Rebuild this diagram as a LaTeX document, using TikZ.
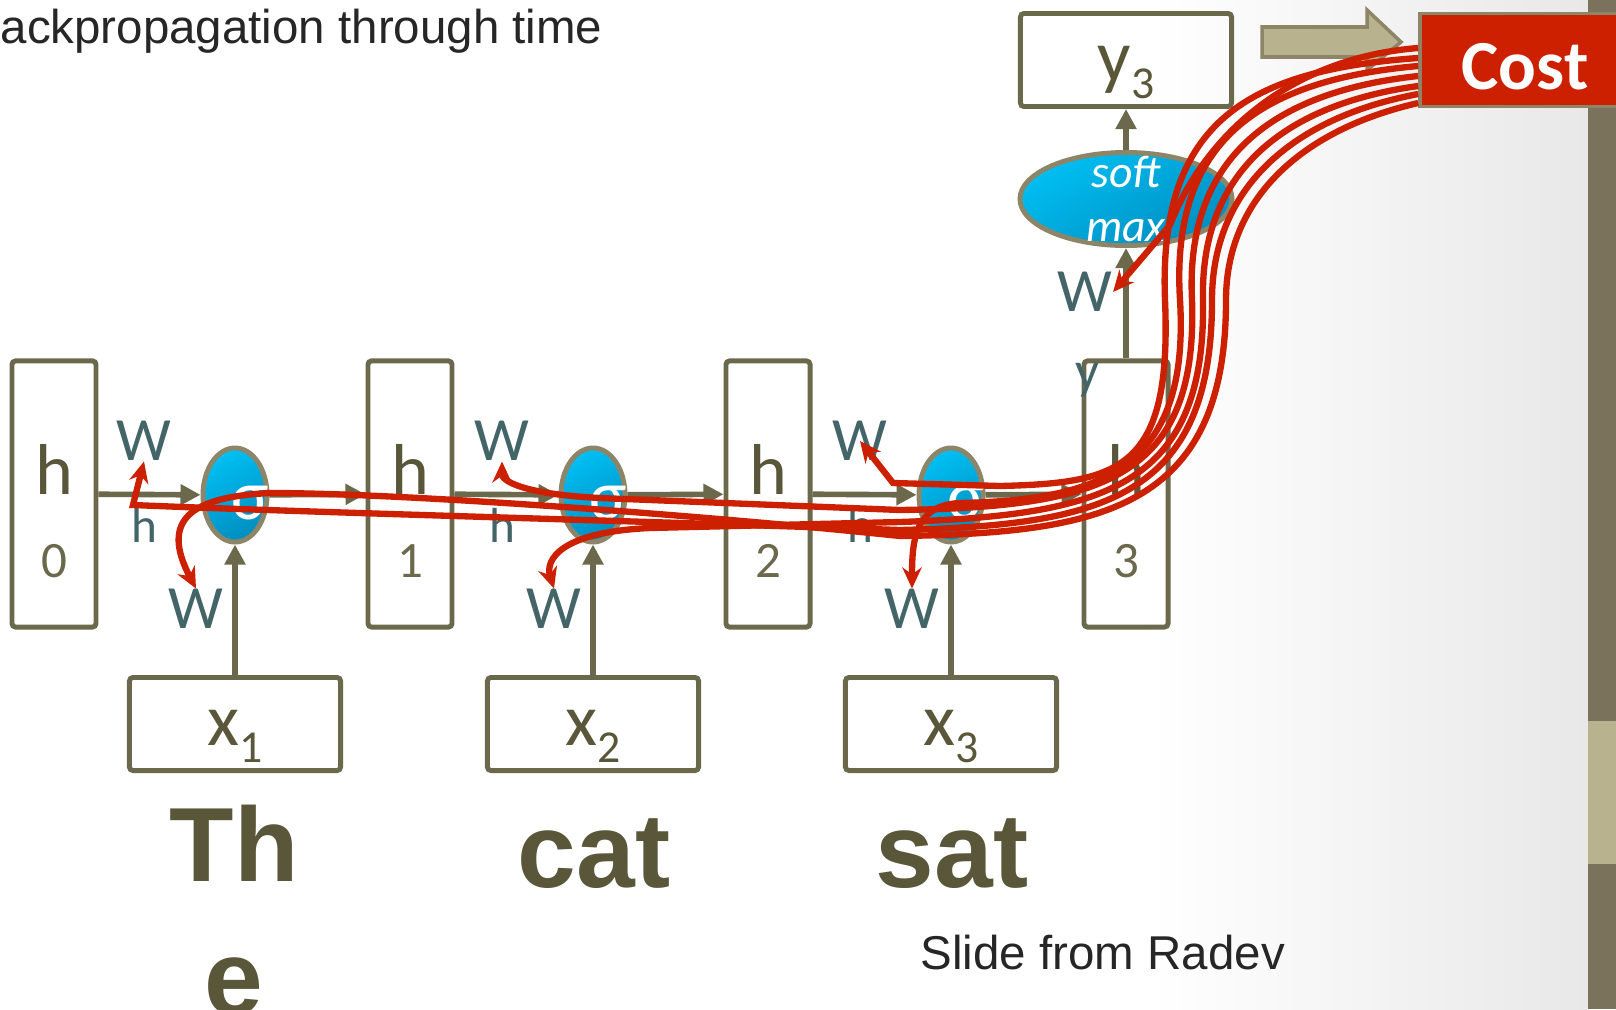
\documentclass[tikz,border=0pt]{standalone}
\usepackage{fontspec}
\setmainfont{Liberation Sans}
\newfontfamily\carlito{Carlito}
\usetikzlibrary{arrows.meta,positioning,calc,shapes.geometric}
\definecolor{rnnolive}{RGB}{107,104,76}
\definecolor{rnntext}{RGB}{89,86,57}
\definecolor{rnnteal}{RGB}{67,101,104}
\definecolor{rnnkhaki}{RGB}{140,133,104}
\definecolor{rnnsand}{RGB}{184,178,143}
\definecolor{rnnbar}{RGB}{122,114,90}
\definecolor{rnncyan}{RGB}{0,191,243}
\definecolor{rnndeep}{RGB}{0,142,192}
\definecolor{bpred}{RGB}{204,32,0}
\newcommand{\lowidx}[1]{\raisebox{-5pt}{\fontsize{13}{13}\selectfont#1}}
\tikzset{
    hbox/.style={
        draw=rnnolive,line width=1.4pt,rounded corners=1pt,
        minimum width=.84cm,minimum height=2.66cm,inner sep=0pt
    },
    iobox/.style={
        draw=rnnolive,line width=1.4pt,rounded corners=1pt,
        minimum width=2.11cm,minimum height=.93cm,inner sep=0pt,
        text height=12pt,text depth=0pt,
        text=rnntext,font=\carlito\fontsize{21}{21}\selectfont
    },
    neuron/.style={
        ellipse,draw=rnnkhaki,line width=1.4pt,inner sep=0pt,
        top color=rnncyan,bottom color=rnndeep,shading angle=30
    },
    flow/.style={
        -{Triangle[length=5.7pt,width=5.7pt]},line width=1.6pt,draw=rnnolive
    },
    backprop/.style={
        -{Stealth[length=6pt,width=5.5pt]},line width=1.8pt,draw=bpred
    },
    wlabel/.style={inner sep=0pt,text=rnnteal,font=\carlito\fontsize{17.5}{17.5}\selectfont},
    wsub/.style={inner sep=0pt,text=rnnteal,font=\carlito\fontsize{14}{14}\selectfont},
    word/.style={inner sep=0pt,align=center,text=rnntext,font=\bfseries\fontsize{30}{38}\selectfont}
}

\begin{document}
\begin{tikzpicture}[x=.01cm,y=-.01cm]
\useasboundingbox (0,0) rectangle (1616,1009);

% slide background
\shade[left color=white,right color=black!9] (1150,0) rectangle (1588,1009);
\fill[rnnbar] (1588,0) rectangle (1616,1009);
\fill[rnnsand] (1588,721) rectangle (1616,864);

\node[anchor=base west,inner sep=0pt,font=\fontsize{13.5}{13.5}\selectfont,text=black!85]
(title) at (0,43) {ackpropagation through time};

% hidden states
\foreach \i/\hx in {0/54,1/410,2/768,3/1126}{
    \node[hbox] (h\i) at (\hx,494) {};
    \node[inner sep=0pt,text=rnntext,font=\carlito\fontsize{20.5}{20.5}\selectfont]
    (hn\i) at (\hx,469) {h};
    \node[inner sep=0pt,text=rnnolive,font=\carlito\fontsize{14.5}{14.5}\selectfont]
    (hd\i) at (\hx,561) {\i};
}

% time steps
\foreach \i/\j/\sx in {1/0/235,2/1/593,3/2/951}{
    \node[neuron,minimum width=.64cm,minimum height=.94cm] (s\i) at (\sx,495) {};
    \node[inner sep=0pt,text=white,font=\carlito\fontsize{20}{20}\selectfont]
    (sg\i) at (\sx+15,503) {σ};
    \node[iobox] (x\i) at (\sx,724) {x\lowidx{\i}};
    \node[wlabel] (wt\i) at (\sx-91,441) {W};
    \node[wsub] (wn\i) at (\sx-91,525) {h};
    \node[wlabel] (wb\i) at (\sx-39,609) {W};
    \draw[flow] (h\j) -- (s\i);
    \draw[flow] (s\i) -- (h\i);
    \draw[flow] (x\i) -- (s\i);
}

% output
\node[neuron,minimum width=2.12cm,minimum height=.93cm] (sm) at (1126,199) {};
\node[inner sep=0pt,align=center,text=white,font=\carlito\itshape\fontsize{13}{15.5}\selectfont]
(smtext) at (sm.center) {soft\\max};
\node[iobox] (y3) at (1126,60) {y\lowidx{3}};
\draw[flow] (h3) -- (sm);
\draw[flow] (sm) -- (y3);
\node[wlabel] (wy) at (1085,292) {W};
\node[wsub,font=\carlito\fontsize{15}{15}\selectfont] (wyy) at (1087,380) {y};

\filldraw[fill=rnnsand,draw=rnnkhaki,line width=1pt]
(1262,27) -- (1367,27) -- (1367,10) -- (1401,42) -- (1367,70) -- (1367,57) -- (1262,57) -- cycle;

\node[fill=bpred,draw=rnnkhaki,line width=1pt,minimum width=2.1cm,minimum height=.93cm,
inner sep=0pt,text height=17pt,text depth=0pt,text=white,
font=\carlito\bfseries\fontsize{20}{20}\selectfont]
(cost) at (1525,60) {Cost};

% words
\node[word,anchor=north] (the) at (234,804) {Th\\e};
\node[word,anchor=base] (cat) at (594,887) {cat};
\node[word,anchor=base] (sat) at (952,887) {sat};

\node[anchor=base west,inner sep=0pt,font=\fontsize{13.5}{13.5}\selectfont,text=black!85]
(credit) at (920,969) {Slide from Radev};

% gradients flowing back from the cost
\draw[backprop] ($(cost.west)+(0,-12)$) .. controls (1290,58) and (1205,135) .. (1170,225) -- (wy.east);
\draw[backprop] ($(cost.west)+(0,-2)$) .. controls (1250,70) and (1158,120) .. (1165,300)
    .. controls (1172,470) and (1120,483) .. (1000,486) -- (893,483) -- (wt3.center);
\draw[backprop] ($(cost.west)+(0,6)$) .. controls (1260,80) and (1170,140) .. (1180,300)
    .. controls (1190,470) and (1100,500) .. (960,503) .. controls (915,505) and (912,540) .. (wb3.north);
\draw[backprop] ($(cost.west)+(0,16)$) .. controls (1270,92) and (1185,160) .. (1192,300)
    .. controls (1198,480) and (1100,507) .. (900,510) -- (600,498)
    .. controls (520,494) and (502,480) .. (wt2.south);
\draw[backprop] ($(cost.west)+(0,26)$) .. controls (1280,105) and (1200,175) .. (1203,300)
    .. controls (1206,490) and (1100,515) .. (900,522) -- (650,528)
    .. controls (560,532) and (545,560) .. (wb2.north);
\draw[backprop] ($(cost.west)+(0,34)$) .. controls (1290,118) and (1212,190) .. (1212,300)
    .. controls (1212,500) and (1100,525) .. (900,530)
    .. controls (600,520) and (300,512) .. (133,505) -- (wt1.south);
\draw[backprop] ($(cost.west)+(0,43)$) .. controls (1300,130) and (1226,200) .. (1226,300)
    .. controls (1226,510) and (1100,533) .. (900,536)
    .. controls (700,515) and (400,493) .. (270,493)
    .. controls (190,497) and (160,520) .. (wb1.north);

\end{tikzpicture}
\end{document}
